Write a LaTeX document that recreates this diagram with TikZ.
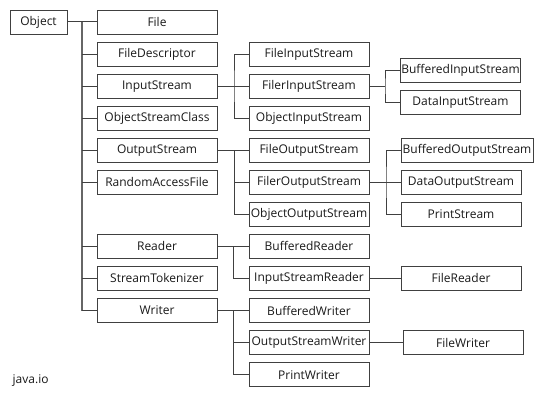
\documentclass[tikz,border=0pt]{standalone}
\usepackage{fontspec}
\setmainfont{Open Sans}
\begin{document}
\begin{tikzpicture}[x=1pt,y=-1pt,
  cls/.style={draw=black!75, line width=0.9pt, fill=white, rectangle, minimum width=120pt, minimum height=24pt, inner sep=0pt, font=\fontsize{12}{14}\selectfont, text=black!90},
  conn/.style={draw=black!75, line width=1pt},
  trunk/.style={draw=black!60, line width=1.5pt}]
\useasboundingbox[fill=white] (0,0) rectangle (550,404);
\def\ry#1{22+32.06*#1}
% column 0
\node[cls, minimum width=57pt] (Object) at (38.5,{\ry{0}}) {Object};
% column 1
\node[cls] (File) at (157,{\ry{0}}) {File};
\node[cls] (FileDescriptor) at (157,{\ry{1}}) {FileDescriptor};
\node[cls] (InputStream) at (157,{\ry{2}}) {InputStream};
\node[cls] (ObjectStreamClass) at (157,{\ry{3}}) {ObjectStreamClass};
\node[cls] (OutputStream) at (157,{\ry{4}}) {OutputStream};
\node[cls] (RandomAccessFile) at (157,{\ry{5}}) {RandomAccessFile};
\node[cls] (Reader) at (157,{\ry{7}}) {Reader};
\node[cls] (StreamTokenizer) at (157,{\ry{8}}) {StreamTokenizer};
\node[cls] (Writer) at (157,{\ry{9}}) {Writer};
% column 2
\node[cls] (FileInputStream) at (309,{\ry{1}}) {FileInputStream};
\node[cls] (FilerInputStream) at (309,{\ry{2}}) {FilerInputStream};
\node[cls] (ObjectInputStream) at (309,{\ry{3}}) {ObjectInputStream};
\node[cls] (FileOutputStream) at (309,{\ry{4}}) {FileOutputStream};
\node[cls] (FilerOutputStream) at (309,{\ry{5}}) {FilerOutputStream};
\node[cls] (ObjectOutputStream) at (309,{\ry{6}}) {ObjectOutputStream};
\node[cls] (BufferedReader) at (309,{\ry{7}}) {BufferedReader};
\node[cls] (InputStreamReader) at (309,{\ry{8}}) {InputStreamReader};
\node[cls] (BufferedWriter) at (309,{\ry{9}}) {BufferedWriter};
\node[cls] (OutputStreamWriter) at (309,{\ry{10}}) {OutputStreamWriter};
\node[cls] (PrintWriter) at (309,{\ry{11}}) {PrintWriter};
% column 3
\node[cls] (BufferedInputStream) at (460.5,{\ry{1.5}}) {BufferedInputStream};
\node[cls] (DataInputStream) at (460.5,{\ry{2.5}}) {DataInputStream};
\node[cls, minimum width=132pt] (BufferedOutputStream) at (467,{\ry{4}}) {BufferedOutputStream};
\node[cls] (DataOutputStream) at (461,{\ry{5}}) {DataOutputStream};
\node[cls] (PrintStream) at (461,{\ry{6}}) {PrintStream};
\node[cls] (FileReader) at (461,{\ry{8}}) {FileReader};
\node[cls] (FileWriter) at (463,{\ry{10}}) {FileWriter};
% label
\node[anchor=west, inner sep=0pt, font=\fontsize{12}{14}\selectfont, text=black!90] (javaio) at (12.5,381) {java.io};
% connectors
\coordinate (j0) at (82,{\ry{0}});
\draw[conn] (Object.east) -- (File.west);
\draw[trunk] (j0) -- (j0 |- Writer.west);
\foreach \c in {FileDescriptor,InputStream,ObjectStreamClass,OutputStream,RandomAccessFile,Reader,StreamTokenizer,Writer}
  \draw[conn] (j0 |- \c.west) -- (\c.west);
% InputStream
\coordinate (j1) at (234,{\ry{2}});
\draw[conn] (InputStream.east) -- (FilerInputStream.west);
\draw[conn] (FileInputStream.west) -| (j1) |- (ObjectInputStream.west);
% FilerInputStream
\coordinate (j2) at (385,{\ry{2}});
\draw[conn] (FilerInputStream.east) -- (j2);
\draw[conn] (BufferedInputStream.west) -| (j2) |- (DataInputStream.west);
% OutputStream
\coordinate (j3) at (234,{\ry{4}});
\draw[conn] (OutputStream.east) -- (FileOutputStream.west);
\draw[conn] (j3) |- (FilerOutputStream.west);
\draw[conn] (j3) |- (ObjectOutputStream.west);
% FilerOutputStream
\coordinate (j4) at (386,{\ry{5}});
\draw[conn] (FilerOutputStream.east) -- (DataOutputStream.west);
\draw[conn] (BufferedOutputStream.west) -| (j4) |- (PrintStream.west);
% Reader
\coordinate (j5) at (233,{\ry{7}});
\draw[conn] (Reader.east) -- (BufferedReader.west);
\draw[conn] (j5) |- (InputStreamReader.west);
\draw[conn] (InputStreamReader.east) -- (FileReader.west);
% Writer
\coordinate (j6) at (233,{\ry{9}});
\draw[conn] (Writer.east) -- (BufferedWriter.west);
\draw[conn] (j6) |- (OutputStreamWriter.west);
\draw[conn] (j6) |- (PrintWriter.west);
\draw[conn] (OutputStreamWriter.east) -- (FileWriter.west);
\end{tikzpicture}
\end{document}
